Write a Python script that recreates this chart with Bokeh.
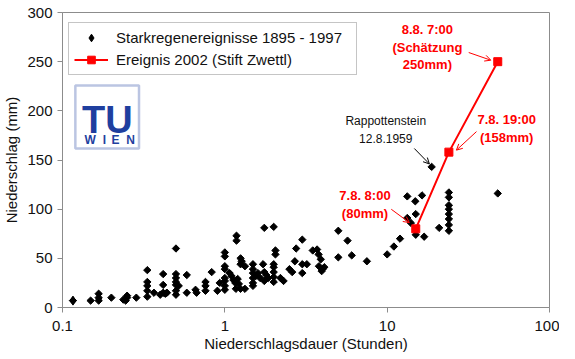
from bokeh.plotting import figure
from bokeh.models import (Range1d, FixedTicker, Legend, LegendItem, Label, Arrow,
                          OpenHead, BoxAnnotation)
from bokeh.embed import file_html
from bokeh.resources import INLINE
import numpy as np

# ---------------- data ----------------
hist_duration = [
    0.116, 0.149, 0.167, 0.167, 0.167, 0.20, 0.237, 0.25, 0.25, 0.245, 0.285,
    0.333, 0.333, 0.333, 0.333, 0.333, 0.366, 0.417, 0.417, 0.417, 0.40, 0.43, 0.44,
    0.5, 0.5, 0.5, 0.5, 0.5, 0.5, 0.5, 0.52, 0.583, 0.583, 0.66, 0.67,
    0.76, 0.76, 0.76, 0.83, 0.9, 0.93,
    1.0, 1.0, 1.0, 1.0, 1.0, 1.0, 1.0, 1.0, 1.07, 1.1, 1.13, 1.16, 1.2, 1.22,
    1.18, 1.18, 1.17, 1.25, 1.33, 1.25, 1.27, 1.25, 1.33,
    1.49, 1.49, 1.49, 1.49, 1.49, 1.49, 1.55, 1.6, 1.65, 1.72, 1.75, 1.8, 1.85, 1.75, 1.75,
    2.0, 2.05, 2.05, 2.0, 2.0, 2.0, 2.0, 2.0, 2.2, 2.3, 2.5, 2.6, 2.7, 2.75,
    3.0, 3.0, 3.2, 3.0, 3.48, 3.7, 3.78, 3.9, 3.8, 4.0, 4.1, 3.95,
    5.0, 5.0, 5.7, 6.05, 7.5,
    10.0, 11.0, 12.0, 13.3, 13.3, 14.9, 16.4, 15.0, 14.0, 15.0, 16.9, 18.8, 20.9,
    24, 24, 24, 24, 24, 24, 24, 24, 48,
]
hist_precip = [
    7, 7, 14, 10, 7, 10, 8, 12, 10, 7, 10,
    38, 26, 22, 17, 11, 15, 34, 23, 15, 13, 14, 15,
    60, 34, 30, 26, 23, 17, 13, 22, 33, 15, 18, 15,
    26, 22, 17, 36, 17, 25,
    56, 52, 42, 39, 30, 27, 22, 18, 35, 32, 28, 25, 29, 24,
    73, 68, 19, 19, 19, 50, 47, 44, 42,
    44, 39, 35, 30, 25, 22, 32, 35, 30, 44, 36, 33, 30, 27, 81,
    82, 58, 54, 44, 41, 36, 31, 26, 30, 27, 39, 36, 47, 60,
    69, 44, 44, 35, 58, 59, 54, 49, 42, 39, 41, 37,
    78, 51, 68, 53, 47,
    54, 62, 70, 113, 91, 108, 114, 95, 86, 74, 72, 143, 81,
    117, 112, 104, 100, 95, 90, 84, 78, 116,
]
event_duration = [15, 24, 48]
event_precip = [80, 158, 250]

x_ticks = [0.1, 1, 10, 100]
x_tick_labels = ["0.1", "1", "10", "100"]
y_ticks = [0, 50, 100, 150, 200, 250, 300]

FONT = "Liberation Sans"
RED = "#ff0000"
BLUE = "#1f3f9f"
GRAY = "#8c8c8c"
TXT = "#111111"

p = figure(width=559, height=355, x_axis_type="log",
           x_range=Range1d(0.1, 100), y_range=Range1d(0, 300),
           output_backend="svg", toolbar_location=None,
           min_border_left=56, min_border_right=10, min_border_top=12, min_border_bottom=48)
p.background_fill_color = "white"
p.border_fill_color = "white"
p.outline_line_color = GRAY
p.outline_line_width = 1
p.xgrid.visible = False
p.ygrid.visible = False

# axes
p.xaxis.ticker = FixedTicker(ticks=x_ticks)
p.xaxis.major_label_overrides = {t: l for t, l in zip(x_ticks, x_tick_labels)}
p.yaxis.ticker = FixedTicker(ticks=y_ticks)
for ax in (p.xaxis[0], p.yaxis[0]):
    ax.axis_line_color = GRAY
    ax.major_tick_line_color = GRAY
    ax.major_tick_out = 5
    ax.major_tick_in = 0
    ax.minor_tick_out = 0
    ax.minor_tick_in = 0
    ax.major_label_text_font = FONT
    ax.major_label_text_font_size = "15px"
    ax.major_label_text_color = TXT
    ax.axis_label_text_font = FONT
    ax.axis_label_text_font_size = "15px"
    ax.axis_label_text_font_style = "normal"
    ax.axis_label_text_color = TXT
p.xaxis.axis_label = "Niederschlagsdauer (Stunden)"
p.yaxis.axis_label = "Niederschlag (mm)"
p.xaxis.major_label_standoff = 8
p.xaxis.axis_label_standoff = 1
p.yaxis.major_label_standoff = 5
p.yaxis.axis_label_standoff = 4

# scatter of historic events (diamonds)
hist_r = p.scatter(hist_duration, hist_precip, marker="square", angle=np.pi / 4,
                   size=5.2, fill_color="black", line_color="black", line_width=1)
# diamond symbol used for the legend entry (drawn on the first event)
hist_key = p.scatter(hist_duration[:1], hist_precip[:1], marker="diamond", size=9,
                     fill_color="black", line_color="black")

# 2002 event
ev_line = p.line(event_duration, event_precip, line_color=RED, line_width=2)
ev_sq = p.scatter(event_duration, event_precip, marker="square", size=8,
                  fill_color=RED, line_color=RED)

legend = Legend(items=[LegendItem(label="Starkregenereignisse 1895 - 1997", renderers=[hist_key]),
                       LegendItem(label="Ereignis 2002 (Stift Zwettl)", renderers=[ev_line, ev_sq])],
                location=(6, 232))
legend.label_text_font = FONT
legend.label_text_font_size = "15px"
legend.label_text_color = TXT
legend.border_line_color = GRAY
legend.border_line_width = 1
legend.background_fill_color = "white"
legend.background_fill_alpha = 1
legend.padding = 5
legend.spacing = 3
legend.glyph_width = 34
legend.glyph_height = 19
legend.label_height = 19
legend.label_width = 235
legend.label_standoff = 8
legend.margin = 0
p.add_layout(legend)

# TU WIEN logo
p.add_layout(BoxAnnotation(left=0.12, right=0.296, bottom=161.6, top=225.7,
                           fill_color="white", fill_alpha=1,
                           line_color=BLUE, line_width=2.5))
p.add_layout(Label(x=0.1318, y=190.5, text="TU", text_font=FONT, text_font_size="38px",
                   text_font_style="bold", text_color=BLUE, text_baseline="alphabetic"))
p.segment(x0=[0.1318], y0=[184.2], x1=[0.2723], y1=[184.2], line_color=BLUE, line_width=2)
for lx, letter in zip([0.148, 0.1815, 0.2124, 0.2622], ["W", "I", "E", "N"]):
    p.add_layout(Label(x=lx, y=170.1, text=letter, text_font=FONT, text_font_size="12px",
                       text_font_style="bold", text_color=BLUE, text_align="center",
                       text_baseline="alphabetic"))

# annotations
def lab(x, y, text, color=TXT, bold=False, size="12px"):
    p.add_layout(Label(x=x, y=y, text=text, text_font=FONT, text_font_size=size,
                       text_font_style="bold" if bold else "normal", text_color=color,
                       text_align="center", text_baseline="middle"))

lab(9.8, 190, "Rappottenstein")
lab(9.8, 172, "12.8.1959")
p.add_layout(Arrow(x_start=14.7, y_start=161.7, x_end=18.2, y_end=146,
                   line_color="black", line_width=1,
                   end=OpenHead(size=6, line_color="black", line_width=1)))

lab(17.7, 283, "8.8. 7:00", RED, True, "13px")
lab(17.7, 264.4, "(Schätzung", RED, True, "13px")
lab(17.7, 247.5, "250mm)", RED, True, "13px")
p.add_layout(Arrow(x_start=31.8, y_start=259.3, x_end=43.5, y_end=251.5,
                   line_color=RED, line_width=1,
                   end=OpenHead(size=6, line_color=RED, line_width=1)))

lab(54.5, 191.5, "7.8. 19:00", RED, True, "13px")
lab(54.5, 172.8, "(158mm)", RED, True, "13px")
p.add_layout(Arrow(x_start=35.5, y_start=178.9, x_end=26.7, y_end=160,
                   line_color=RED, line_width=1,
                   end=OpenHead(size=6, line_color=RED, line_width=1)))

lab(7.3, 114.2, "7.8. 8:00", RED, True, "13px")
lab(7.3, 95.5, "(80mm)", RED, True, "13px")
p.add_layout(Arrow(x_start=10.6, y_start=99.9, x_end=13.7, y_end=86.3,
                   line_color=RED, line_width=1,
                   end=OpenHead(size=6, line_color=RED, line_width=1)))

open("out.html", "w").write(file_html(p, INLINE))
